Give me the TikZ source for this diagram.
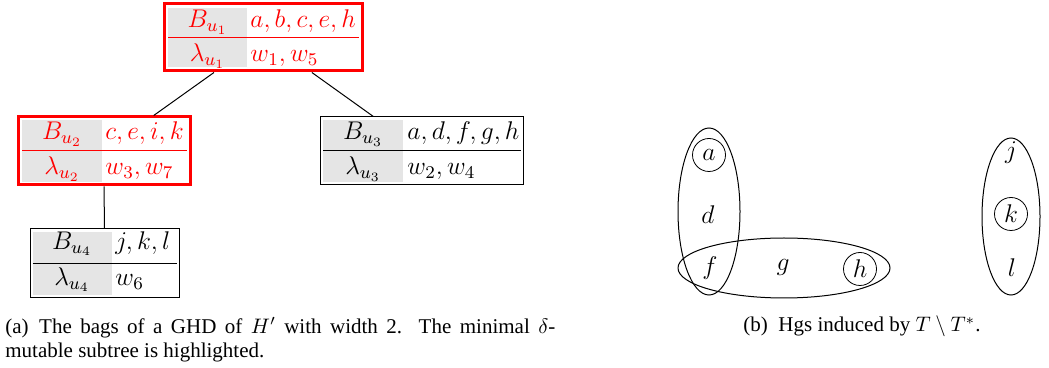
\RequirePackage{fix-cm}
\documentclass[tikz,border=0pt]{standalone}
\usepackage{fontspec}
\setmainfont{Liberation Serif}
\usepackage{xcolor}
\usetikzlibrary{positioning,calc}
\definecolor{cellgray}{gray}{0.9}

\begin{document}
\begin{tikzpicture}[x=0.5pt, y=-0.5pt,
  bag/.style={draw, rectangle, inner sep=0pt, line width=0.5pt},
  lbl/.style={font=\fontsize{12.8}{15}\selectfont, inner sep=0pt},
  vtx/.style={lbl, circle, draw, line width=0.4pt, minimum size=16.5pt},
  captxt/.style={font=\fontsize{10.5}{12}\selectfont, inner sep=0pt},
  every edge/.append style={line width=0.5pt}]

\useasboundingbox (0,0) rectangle (1049,368);

\begin{scope}[shift={(263,37.5)}, red] %bag u1, highlighted
\node[bag, line width=1.5pt, minimum width=99pt, minimum height=33.5pt] (u1) at (0,0) {};
\fill[cellgray] (-95,-29.5) rectangle (-16,29.5);
\draw[line width=0.5pt] (-95,0) -- (96,0);
\node[lbl, anchor=base] (u1B) at (-55.5,-9.5) {$B_{u_1}$};
\node[lbl, anchor=base] (u1L) at (-55.5,24.5) {$\lambda_{u_1}$};
\node[lbl, anchor=base west] (u1Bset) at (-13,-9.5) {$a, b, c, e, h$};
\node[lbl, anchor=base west] (u1Lset) at (-13,24.5) {$w_1, w_5$};
\end{scope}

\begin{scope}[shift={(104,151)}, red] %bag u2, highlighted
\node[bag, line width=1.5pt, minimum width=86pt, minimum height=34pt] (u2) at (0,0) {};
\fill[cellgray] (-82,-31) rectangle (-2,31);
\draw[line width=0.5pt] (-82,0) -- (83,0);
\node[lbl, anchor=base] (u2B) at (-42,-11) {$B_{u_2}$};
\node[lbl, anchor=base] (u2L) at (-42,24) {$\lambda_{u_2}$};
\node[lbl, anchor=base west] (u2Bset) at (1,-11) {$c, e, i, k$};
\node[lbl, anchor=base west] (u2Lset) at (1,24) {$w_3, w_7$};
\end{scope}

\begin{scope}[shift={(421.5,151)}] %bag u3
\node[bag, minimum width=101.5pt, minimum height=34pt] (u3) at (0,0) {};
\fill[cellgray] (-98.5,-31) rectangle (-18.5,31);
\draw[line width=0.5pt] (-98.5,0) -- (99,0);
\node[lbl, anchor=base] (u3B) at (-58.5,-11) {$B_{u_3}$};
\node[lbl, anchor=base] (u3L) at (-58.5,24) {$\lambda_{u_3}$};
\node[lbl, anchor=base west] (u3Bset) at (-14.5,-11) {$a, d, f, g, h$};
\node[lbl, anchor=base west] (u3Lset) at (-14.5,24) {$w_2, w_4$};
\end{scope}

\begin{scope}[shift={(104.5,263.5)}] %bag u4
\node[bag, minimum width=74.5pt, minimum height=34.5pt] (u4) at (0,0) {};
\fill[cellgray] (-72,-31.5) rectangle (7.5,31.5);
\draw[line width=0.5pt] (-72,0) -- (72,0);
\node[lbl, anchor=base] (u4B) at (-32.5,-14) {$B_{u_4}$};
\node[lbl, anchor=base] (u4L) at (-32.5,22) {$\lambda_{u_4}$};
\node[lbl, anchor=base west] (u4Bset) at (10.5,-14) {$j, k, l$};
\node[lbl, anchor=base west] (u4Lset) at (10.5,22) {$w_6$};
\end{scope}

\path[-] (u1) edge (u2)
    (u1) edge (u3)
    (u2) edge (u4);

% hypergraph induced by T \ T*
\node[vtx] (a) at (709,155) {$a$};
\node[lbl] (d) at (708,215) {$d$};
\node[lbl] (f) at (710,268) {$f$};
\node[lbl] (g) at (783,267) {$g$};
\node[vtx] (h) at (860,269) {$h$};
\node[lbl] (j) at (1011,153) {$j$};
\node[vtx] (k) at (1011,214) {$k$};
\node[lbl] (l) at (1012,268) {$l$};

\draw[line width=0.5pt] (709,211.5) ellipse [x radius=31, y radius=83.5];
\draw[line width=0.5pt] (784,268) ellipse [x radius=106, y radius=30];
\draw[line width=0.5pt] (1011,216.5) ellipse [x radius=29, y radius=78.5];

% captions
\node[captxt, text width=275pt, align=justify, anchor=north west] (capA) at (5,317)
  {(a)\enspace The bags of a GHD of $H'$ with width 2. The minimal $\delta$-\linebreak mutable subtree is highlighted.};
\node[captxt, anchor=base] (capB) at (862,332) {(b)\enspace Hgs induced by $T \setminus T^*$.};
\end{tikzpicture}
\end{document}
